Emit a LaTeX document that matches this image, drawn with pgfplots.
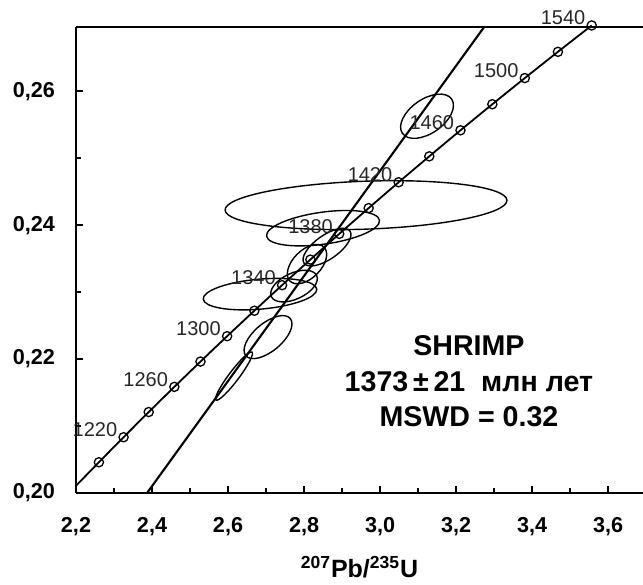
\documentclass[border=0pt]{standalone}
\usepackage{pgfplots}
\pgfplotsset{compat=1.18}
\usepackage{pgfplotstable}
\usepackage{fontspec}
\setmainfont{Liberation Sans}

% concordia points (t in Ma, 207Pb/235U, 206Pb/238U)
\pgfplotstableread{
t x y
1181 2.2000 0.20108
1200 2.2603 0.20459
1220 2.3252 0.20833
1240 2.3913 0.21209
1260 2.4588 0.21585
1280 2.5276 0.21963
1300 2.5977 0.22342
1320 2.6693 0.22722
1340 2.7423 0.23104
1360 2.8167 0.23486
1380 2.8926 0.23870
1400 2.9701 0.24255
1420 3.0490 0.24641
1440 3.1296 0.25028
1460 3.2117 0.25417
1480 3.2955 0.25806
1500 3.3810 0.26197
1520 3.4681 0.26589
1540 3.5570 0.26983
}\concordia

\pgfplotstableread{
lab x y
1220 2.3252 0.20833
1260 2.4588 0.21585
1300 2.5977 0.22342
1340 2.7423 0.23104
1380 2.8926 0.23870
1420 3.0490 0.24641
1460 3.2117 0.25417
1500 3.3810 0.26197
1540 3.5570 0.26983
}\agelabels

\pgfplotstableread{
x y
2.387 0.2000
3.274 0.2696
}\discordia

\begin{document}
\begin{tikzpicture}
\begin{axis}[
  name=ax,
  scale only axis,
  width=283.5pt, height=233pt,
  xmin=2.2, xmax=3.692,
  ymin=0.20, ymax=0.2696,
  axis x line=box, axis y line=left,
  axis line style={-, line width=1.2pt},
  xtick pos=left, ytick pos=left,
  tick align=inside,
  xtick={2.2,2.4,2.6,2.8,3.0,3.2,3.4,3.6},
  ytick={0.20,0.22,0.24,0.26},
  minor x tick num=1, minor y tick num=1,
  major tick length=3.5pt, minor tick length=2.5pt,
  tick style={line width=0.9pt, black},
  scaled x ticks=false, scaled y ticks=false,
  /pgf/number format/assume math mode=true,
  x tick label style={font=\fontsize{10.8}{12}\selectfont\bfseries, yshift=-8.5pt,
    /pgf/number format/.cd, fixed, fixed zerofill, precision=1, use comma},
  y tick label style={font=\fontsize{10.8}{12}\selectfont\bfseries, xshift=-7pt,
    /pgf/number format/.cd, fixed, fixed zerofill, precision=2, use comma},
  xlabel={\textsuperscript{207}Pb/\textsuperscript{235}U},
  xlabel style={font=\fontsize{12.5}{14}\selectfont\bfseries, yshift=-3.5pt},
  clip=false,
]
% concordia
\addplot[black, line width=0.9pt, smooth, mark=none] table[x=x, y=y] {\concordia};
\addplot[only marks, mark=o, mark size=2.3pt, mark options={fill=white, line width=0.65pt, black},
  skip coords between index={0}{1}] table[x=x, y=y] {\concordia};
% age labels
\addplot[draw=none, mark=none, nodes near coords, point meta=explicit symbolic,
  nodes near coords style={anchor=south east, inner sep=0pt, xshift=-3pt, yshift=0pt,
    font=\fontsize{10}{11}\selectfont, text=black!85}]
  table[x=x, y=y, meta=lab] {\agelabels};
% discordia
\addplot[black, line width=1.05pt, mark=none] table[x=x, y=y] {\discordia};
% error ellipses
\tikzset{ell/.style={black, line width=0.7pt}}
\draw[ell, rotate around={2:(axis cs:2.9632,0.24299)}] (axis cs:2.9632,0.24299) ellipse [x radius=0.3711, y radius=0.00358];
\draw[ell, rotate around={8:(axis cs:2.8500,0.23955)}] (axis cs:2.8500,0.23955) ellipse [x radius=0.150, y radius=0.00239];
\draw[ell, rotate around={35:(axis cs:2.8605,0.23672)}] (axis cs:2.8605,0.23672) ellipse [x radius=0.0737, y radius=0.00179];
\draw[ell, rotate around={45:(axis cs:2.8079,0.23418)}] (axis cs:2.8079,0.23418) ellipse [x radius=0.0632, y radius=0.00209];
\draw[ell, rotate around={25:(axis cs:2.7737,0.23090)}] (axis cs:2.7737,0.23090) ellipse [x radius=0.0658, y radius=0.00194];
\draw[ell, rotate around={5:(axis cs:2.6842,0.22970)}] (axis cs:2.6842,0.22970) ellipse [x radius=0.150, y radius=0.00224];
\draw[ell, rotate around={40:(axis cs:2.7053,0.22328)}] (axis cs:2.7053,0.22328) ellipse [x radius=0.0763, y radius=0.00209];
\draw[ell, rotate around={53:(axis cs:2.6158,0.21746)}] (axis cs:2.6158,0.21746) ellipse [x radius=0.0789, y radius=0.00075];
\draw[ell, rotate around={35:(axis cs:3.1237,0.25627)}] (axis cs:3.1237,0.25627) ellipse [x radius=0.0789, y radius=0.00254];
% annotation
\node[anchor=base, font=\fontsize{14.3}{16}\selectfont\bfseries] at (axis cs:3.234,0.2206) {SHRIMP};
\node[anchor=base, font=\fontsize{14.3}{16}\selectfont\bfseries] at (axis cs:3.234,0.21522) {1373\,±\,21 \ млн лет};
\node[anchor=base, font=\fontsize{14.3}{16}\selectfont\bfseries] at (axis cs:3.234,0.2100) {MSWD = 0.32};
\end{axis}
\pgfresetboundingbox
\path ([xshift=-38pt,yshift=-46pt]ax.south west) rectangle ([yshift=13.5pt]ax.north east);
\end{tikzpicture}
\end{document}
